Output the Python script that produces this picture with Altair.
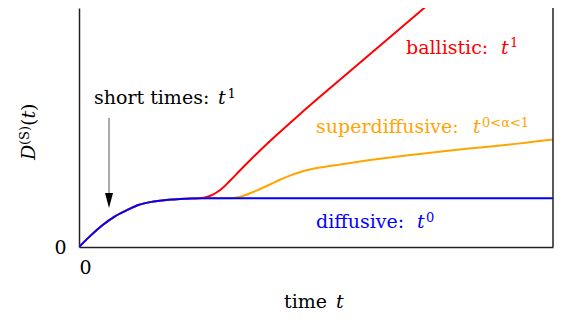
import altair as alt
import pandas as pd

# ---- data (time t, D in plateau units) ----
t_rise = [0, 0.25, 0.5, 0.75, 1.0, 1.25, 1.5, 1.75, 2.0, 2.25, 2.55]
D_rise = [0, 0.238, 0.451, 0.624, 0.75, 0.86, 0.92, 0.955, 0.975, 0.99, 1.0]

t_diff = [10.0]
D_diff = [1.0]

t_ball = [2.76, 2.98, 3.19, 3.40, 3.61, 3.82, 4.14, 4.66, 5.79, 7.48, 8.25]
D_ball = [1.046, 1.169, 1.363, 1.574, 1.779, 1.978, 2.269, 2.722, 3.663, 5.064, 5.705]

t_sup = [3.19, 3.40, 3.61, 3.82, 4.03, 4.24, 4.45, 4.66, 4.87, 5.08, 5.51,
         5.93, 6.56, 7.19, 7.83, 8.46, 9.09, 10.0]
D_sup = [1.0, 1.031, 1.101, 1.189, 1.281, 1.378, 1.464, 1.534, 1.587, 1.628,
         1.691, 1.753, 1.835, 1.907, 1.978, 2.040, 2.101, 2.204]

x_ticks = [0]
y_ticks = [0]

# label parts: text, t, D, colour, size, italic, angle
lab_text = ["short times:", "t", "1",
            "ballistic:", "t", "1",
            "superdiffusive:", "t", "0<α<1",
            "diffusive:", "t", "0",
            "time", "t",
            "D", "(S)", "(", "t", ")"]
lab_t = [0.316, 2.932, 3.133,
         6.899, 8.903, 9.093,
         5.0, 8.312, 8.502,
         5.0, 7.131, 7.321,
         4.325, 5.422,
         -0.928, -1.055, -0.928, -0.928, -0.928]
lab_D = [2.932, 2.932, 3.055,
         3.957, 3.957, 4.100,
         2.337, 2.337, 2.460,
         0.390, 0.390, 0.513,
         -1.250, -1.250,
         1.784, 2.091, 2.481, 2.634, 2.788]
lab_color = ["black"] * 3 + ["#ff0000"] * 3 + ["#ffa500"] * 3 + ["#0000ff"] * 3 + ["black"] * 7
lab_size = [19, 19, 13, 19, 19, 13, 19, 19, 13, 19, 19, 13, 19, 19, 19, 13, 19, 19, 19]
lab_italic = [False, True, False, False, True, False, False, True, False,
              False, True, False, False, True, True, False, False, True, False]
lab_angle = [0] * 14 + [270] * 5

# arrow
arrow_t = [0.633]
arrow_top = [2.645]
arrow_bot = [1.045]
arrow_tip = [0.80]

# ---- build tables ----
blue = pd.DataFrame({"t": t_rise + t_diff, "D": D_rise + D_diff})
red = pd.DataFrame({"t": t_rise + t_ball, "D": D_rise + D_ball})
orange = pd.DataFrame({"t": t_rise + t_sup, "D": D_rise + D_sup})
labels = pd.DataFrame({"t": lab_t, "D": lab_D, "text": lab_text, "color": lab_color,
                       "size": lab_size, "italic": lab_italic, "angle": lab_angle})
arrow = pd.DataFrame({"t": arrow_t, "D": arrow_top, "D2": arrow_bot, "tip": arrow_tip})

FONT = "DejaVu Serif"
xs = alt.Scale(domain=[0, 10], nice=False, zero=False)
ys = alt.Scale(domain=[0, 4.9], nice=False, zero=False)

xaxis = alt.Axis(values=x_ticks, title=None, ticks=False, grid=False, labelPadding=11,
                 labelFont=FONT, labelFontSize=19, labelColor="black",
                 domainColor="#222222", domainWidth=1.5)
yaxis = alt.Axis(values=y_ticks, title=None, ticks=False, grid=False, labelPadding=13,
                 labelFont=FONT, labelFontSize=19, labelColor="black",
                 domainColor="#222222", domainWidth=1.5)


def line(df, colour):
    return alt.Chart(df).mark_line(color=colour, strokeWidth=2, interpolate="monotone",
                                   clip=True).encode(
        x=alt.X("t:Q", scale=xs, axis=xaxis),
        y=alt.Y("D:Q", scale=ys, axis=yaxis),
    )


red_l = line(red, "#ff0000")
orange_l = line(orange, "#ffa500")
blue_l = line(blue, "#0000ff")

right_border = alt.Chart(pd.DataFrame({"t": [10.0]})).mark_rule(
    color="#222222", strokeWidth=1.5).encode(
    x=alt.X("t:Q", scale=xs),
    y=alt.datum(0),
    y2=alt.datum(4.9),
)

arrow_line = alt.Chart(arrow).mark_rule(color="#555555", strokeWidth=1).encode(
    x=alt.X("t:Q", scale=xs),
    y=alt.Y("D:Q", scale=ys),
    y2="D2:Q",
)
arrow_head = alt.Chart(arrow).mark_point(
    shape="M-1,-3.75L1,-3.75L0,0Z", size=64, filled=True, color="black", opacity=1
).encode(
    x=alt.X("t:Q", scale=xs),
    y=alt.Y("tip:Q", scale=ys),
)


def text_layer(italic):
    return alt.Chart(labels).transform_filter(
        alt.datum.italic == italic
    ).mark_text(font=FONT, align="left", baseline="alphabetic",
                fontStyle="italic" if italic else "normal").encode(
        x=alt.X("t:Q", scale=xs),
        y=alt.Y("D:Q", scale=ys),
        text="text:N",
        color=alt.Color("color:N", scale=None),
        size=alt.Size("size:Q", scale=None),
        angle=alt.Angle("angle:Q", scale=None),
    )


chart = alt.layer(
    red_l, orange_l, blue_l, right_border, arrow_line, arrow_head,
    text_layer(False), text_layer(True)
).properties(
    width=474, height=239,
    padding={"left": 71, "top": 0, "right": 1, "bottom": 65},
    autosize=alt.AutoSizeParams(type="none"),
    background="white",
).configure_view(stroke=None)

chart.save("out.html", embed_options={"renderer": "svg", "actions": False})
